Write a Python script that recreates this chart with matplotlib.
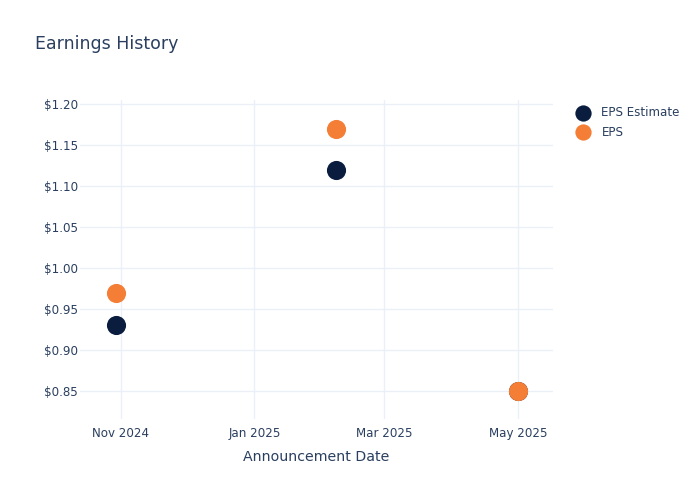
import matplotlib
matplotlib.use("Agg")
import matplotlib.pyplot as plt
import matplotlib.dates as mdates
from datetime import datetime

plt.rcParams['font.family'] = ['DejaVu Sans']

dates = ["2024-10-30", "2025-02-07", "2025-05-01"]
eps_estimate = [0.93, 1.12, 0.85]
eps_actual = [0.97, 1.17, 0.85]
x_ticks = ["2024-11-01", "2025-01-01", "2025-03-01", "2025-05-01"]
y_ticks = [0.85, 0.90, 0.95, 1.00, 1.05, 1.10, 1.15, 1.20]

text_color = "#2a3f5f"
grid_color = "#EBF0F8"
navy = "#0b1d3f"
orange = "#f47e36"

d = [datetime.strptime(s, "%Y-%m-%d") for s in dates]
xt = [datetime.strptime(s, "%Y-%m-%d") for s in x_ticks]

fig = plt.figure(figsize=(7, 5), dpi=100)
ax = fig.add_axes([80/700, 1-419/500, (553-80)/700, (419-100)/500])

ax.scatter(d, eps_estimate, s=190, color=navy, label="EPS Estimate", zorder=3, linewidths=0)
ax.scatter(d, eps_actual, s=190, color=orange, label="EPS", zorder=4, linewidths=0)

ax.set_xlim(datetime(2024, 10, 13, 12), datetime(2025, 5, 17))
ax.set_ylim(0.8159, 1.2049)
ax.set_xticks(xt)
ax.xaxis.set_major_formatter(mdates.DateFormatter("%b %Y"))
ax.set_yticks(y_ticks)
ax.set_yticklabels([f"${v:.2f}" for v in y_ticks])

for s in ax.spines.values():
    s.set_visible(False)
ax.grid(True, color=grid_color, linewidth=1)
ax.set_axisbelow(True)
ax.tick_params(axis='both', length=0, labelsize=8.6, colors=text_color)
ax.tick_params(axis='x', pad=6)
ax.tick_params(axis='y', pad=1.5)

ax.set_xlabel("Announcement Date", fontsize=10.2, color=text_color, labelpad=7)

fig.text(35/700, 1-44/500, "Earnings History", fontsize=12.5, color=text_color,
         ha='left', va='center')

leg = ax.legend(loc='upper left', bbox_to_anchor=(571/700, 1-106/500),
                bbox_transform=fig.transFigure, frameon=False, fontsize=8.6,
                handletextpad=0.55, labelspacing=0.55, markerscale=0.85,
                borderaxespad=0, borderpad=0)
for t in leg.get_texts():
    t.set_color(text_color)

fig.savefig("out.png", dpi=100)
